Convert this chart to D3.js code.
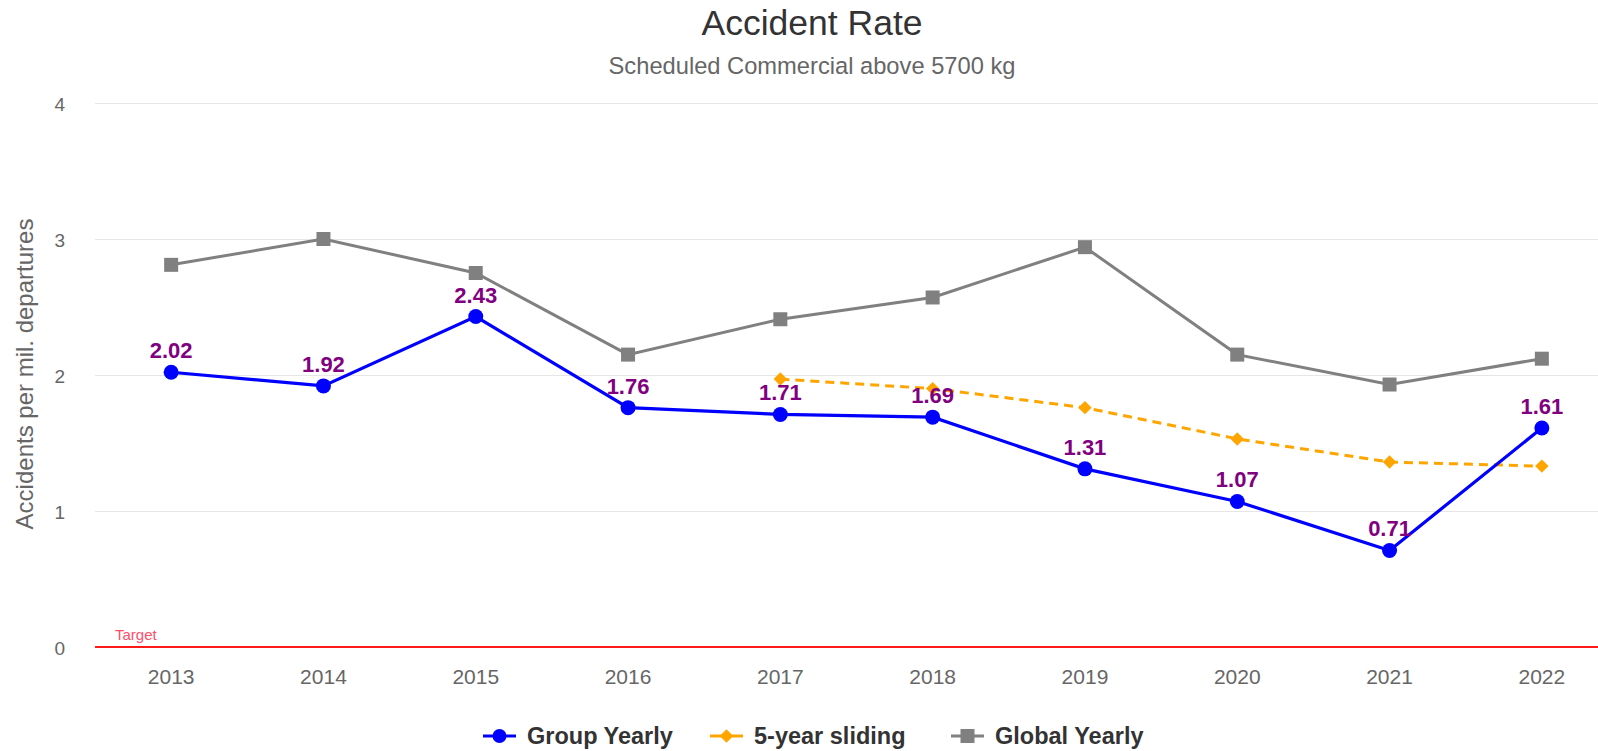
<!DOCTYPE html>
<html>
<head>
<meta charset="utf-8">
<script src="https://cdn.jsdelivr.net/npm/d3@7"></script>
<style>
  body { margin: 0; background: #fff; }
  svg { font-family: "Liberation Sans", Arial, sans-serif; }
</style>
</head>
<body>
<div class="chart"></div>
<script>
// data
var years = ["2013", "2014", "2015", "2016", "2017", "2018", "2019", "2020", "2021", "2022"];
var groupYearly = [2.02, 1.92, 2.43, 1.76, 1.71, 1.69, 1.31, 1.07, 0.71, 1.61];
var slidingYears = ["2017", "2018", "2019", "2020", "2021", "2022"];
var sliding = [1.97, 1.90, 1.76, 1.53, 1.36, 1.33];
var globalYearly = [2.81, 3.00, 2.75, 2.15, 2.41, 2.57, 2.94, 2.15, 1.93, 2.12];
var yTicks = [0, 1, 2, 3, 4];
var targetValue = 0;

var W = 1598, H = 751;
var plot = { left: 95, right: 1598, top: 103, bottom: 647 };

var svg = d3.select("div.chart").append("svg")
    .attr("width", W)
    .attr("height", H);

// x: band per year, point at band center
var xScale = d3.scaleBand()
    .domain(years)
    .range([plot.left, plot.left + 152.3 * years.length])
    .padding(0);
var xMap = function(y) { return xScale(y) + xScale.bandwidth() / 2; };

var yScale = d3.scaleLinear().domain([0, 4]).range([plot.bottom, plot.top]);

// title
svg.append("text")
    .attr("x", 812).attr("y", 35)
    .attr("text-anchor", "middle")
    .style("font-size", "35.5px")
    .style("fill", "#333")
    .text("Accident Rate");

svg.append("text")
    .attr("x", 812).attr("y", 74)
    .attr("text-anchor", "middle")
    .style("font-size", "23.7px")
    .style("fill", "#666")
    .text("Scheduled Commercial above 5700 kg");

// grid
svg.append("g").selectAll("line")
    .data(yTicks.filter(function(t) { return t !== 0; }))
    .enter().append("line")
    .attr("x1", plot.left).attr("x2", plot.right)
    .attr("y1", function(d) { return yScale(d) + 0.5; })
    .attr("y2", function(d) { return yScale(d) + 0.5; })
    .attr("stroke", "#e6e6e6")
    .attr("stroke-width", 1);

// y axis
var yAxis = d3.axisLeft(yScale).tickValues(yTicks).tickSize(0).tickPadding(0)
    .tickFormat(d3.format("d"));
var yg = svg.append("g")
    .attr("transform", "translate(65,0)")
    .call(yAxis);
yg.select(".domain").remove();
yg.selectAll("text")
    .attr("dy", "0.4em")
    .style("font-size", "19px")
    .style("fill", "#666")
    .style("font-family", "Liberation Sans, Arial, sans-serif");

svg.append("text")
    .attr("transform", "translate(33,374) rotate(-90)")
    .attr("text-anchor", "middle")
    .style("font-size", "24px")
    .style("fill", "#666")
    .text("Accidents per mil. departures");

// x axis
var xAxis = d3.axisBottom(xScale).tickSize(0).tickPadding(0);
var xg = svg.append("g")
    .attr("transform", "translate(0,684)")
    .call(xAxis);
xg.select(".domain").remove();
xg.selectAll("text")
    .attr("dy", 0)
    .attr("y", 0)
    .style("font-size", "21px")
    .style("fill", "#666")
    .style("font-family", "Liberation Sans, Arial, sans-serif");

// target line
svg.append("line")
    .attr("x1", plot.left).attr("x2", plot.right)
    .attr("y1", yScale(targetValue)).attr("y2", yScale(targetValue))
    .attr("stroke", "#ff1a1a")
    .attr("stroke-width", 2);
svg.append("text")
    .attr("x", 115).attr("y", yScale(targetValue) - 7)
    .style("font-size", "15px")
    .style("fill", "#ff4d6a")
    .text("Target");

var line = d3.line()
    .x(function(d) { return xMap(d.year); })
    .y(function(d) { return yScale(d.value); });

function pairs(ys, vs) {
    return ys.map(function(y, i) { return { year: y, value: vs[i] }; });
}
var gData = pairs(years, globalYearly);
var sData = pairs(slidingYears, sliding);
var bData = pairs(years, groupYearly);

// global yearly
svg.append("path")
    .datum(gData)
    .attr("d", line)
    .attr("fill", "none")
    .attr("stroke", "#808080")
    .attr("stroke-width", 3);
svg.append("g").selectAll("rect")
    .data(gData)
    .enter().append("rect")
    .attr("x", function(d) { return xMap(d.year) - 7; })
    .attr("y", function(d) { return yScale(d.value) - 7; })
    .attr("width", 14).attr("height", 14)
    .attr("fill", "#808080");

// 5-year sliding
svg.append("path")
    .datum(sData)
    .attr("d", line)
    .attr("fill", "none")
    .attr("stroke", "#ffa500")
    .attr("stroke-width", 3)
    .attr("stroke-dasharray", "9,6");
var diamond = d3.symbol().type(d3.symbolSquare).size(90);
svg.append("g").selectAll("path")
    .data(sData)
    .enter().append("path")
    .attr("d", diamond)
    .attr("transform", function(d) { return "translate(" + xMap(d.year) + "," + yScale(d.value) + ") rotate(45)"; })
    .attr("fill", "#ffa500");

// group yearly
svg.append("path")
    .datum(bData)
    .attr("d", line)
    .attr("fill", "none")
    .attr("stroke", "#0000ff")
    .attr("stroke-width", 3.2);
svg.append("g").selectAll("circle")
    .data(bData)
    .enter().append("circle")
    .attr("cx", function(d) { return xMap(d.year); })
    .attr("cy", function(d) { return yScale(d.value); })
    .attr("r", 7.5)
    .attr("fill", "#0000ff");
svg.append("g").selectAll("text")
    .data(bData)
    .enter().append("text")
    .attr("x", function(d) { return xMap(d.year); })
    .attr("y", function(d) { return yScale(d.value) - 14; })
    .attr("text-anchor", "middle")
    .style("font-size", "22px")
    .style("font-weight", "bold")
    .style("fill", "#800080")
    .text(function(d) { return d.value.toFixed(2); });

// legend
var legend = [
    { name: "Group Yearly", color: "#0000ff", shape: "circle", x: 483 },
    { name: "5-year sliding", color: "#ffa500", shape: "diamond", x: 710 },
    { name: "Global Yearly", color: "#808080", shape: "square", x: 951 }
];
var lg = svg.append("g").attr("transform", "translate(0,736)");
legend.forEach(function(l) {
    var g = lg.append("g").attr("transform", "translate(" + l.x + ",0)");
    g.append("line").attr("x1", 0).attr("x2", 33).attr("y1", 0).attr("y2", 0)
        .attr("stroke", l.color).attr("stroke-width", 3);
    if (l.shape === "circle") {
        g.append("circle").attr("cx", 16.5).attr("cy", 0).attr("r", 7).attr("fill", l.color);
    } else if (l.shape === "diamond") {
        g.append("path").attr("d", diamond).attr("transform", "translate(16.5,0) rotate(45)").attr("fill", l.color);
    } else {
        g.append("rect").attr("x", 9.5).attr("y", -7).attr("width", 14).attr("height", 14).attr("fill", l.color);
    }
    g.append("text").attr("x", 44).attr("y", 8)
        .style("font-size", "23.5px").style("font-weight", "bold").style("fill", "#333")
        .text(l.name);
});
</script>
</body>
</html>
